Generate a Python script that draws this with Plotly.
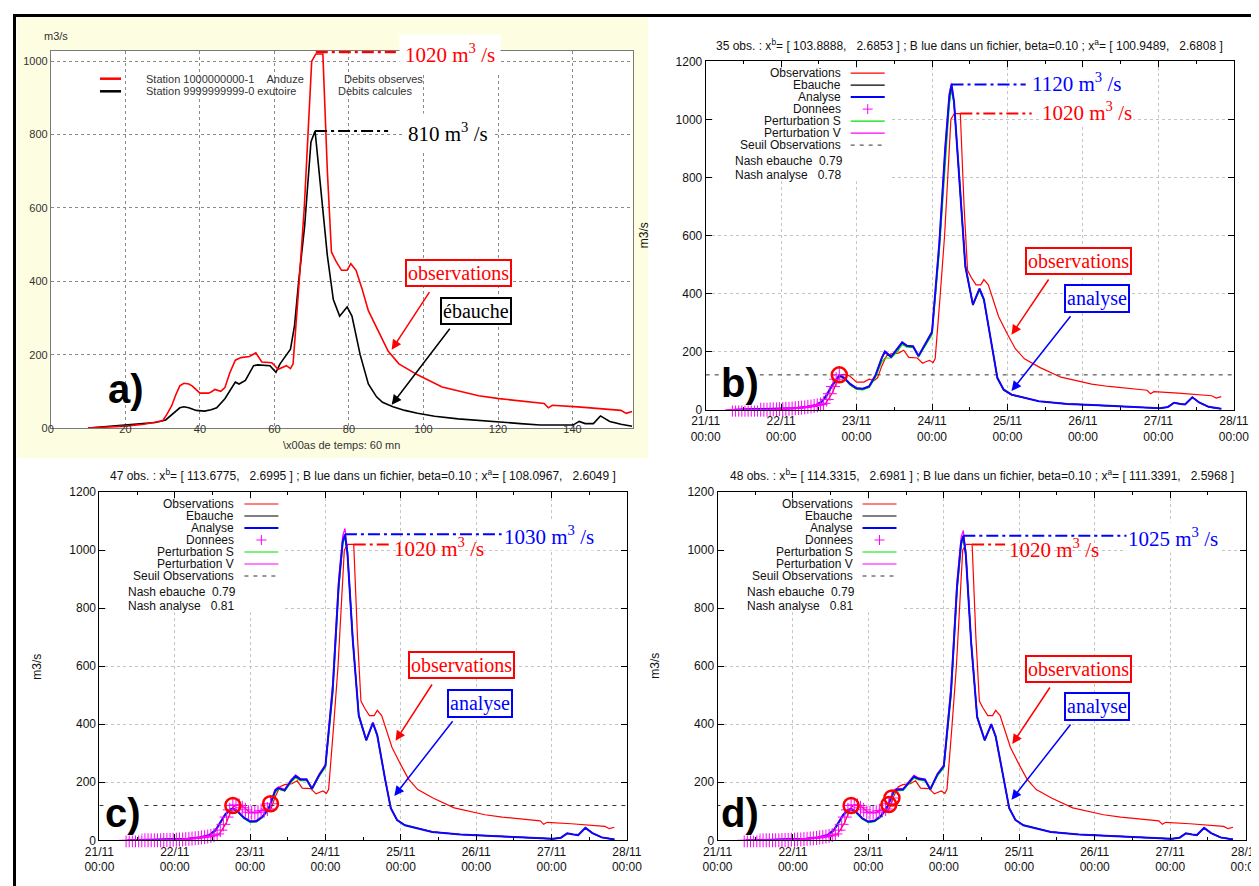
import pandas as pd
import plotly.graph_objects as go

W, H = 1259, 886

# ---------------- panel a data (time step index, 60 mn) ----------------
obs_steps = [10, 16, 20, 25, 28, 30, 31, 32.4, 33.5, 34.6, 35.7, 37, 37.9, 39, 40, 42.3, 43, 44, 45.6, 46.7,
             48, 49.5, 51, 53.3, 55, 56.6, 59.3, 61, 62, 63.2, 64.3, 65, 66.5, 68, 69, 70, 71.1, 73, 74.2, 75.3,
             76.5, 78, 79.5, 80.5, 81.9, 83.5, 85.2, 88, 90.5, 93.4, 98.4, 105, 110, 114.8, 120.3, 126, 132.4,
             133.5, 134.6, 142.3, 151, 153, 154.4, 156]
obs_values = [0, 2, 5, 10, 15, 20, 35, 60, 90, 115, 122, 120, 115, 105, 95, 95, 98, 105, 100, 110,
              150, 185, 192, 195, 205, 180, 178, 160, 165, 170, 162, 175, 380, 600, 800, 1000, 1020, 1020, 700, 480,
              455, 430, 430, 448, 430, 380, 320, 260, 210, 175, 145, 112, 100, 88, 80, 73, 67,
              55, 62, 57, 50, 48, 40, 45]

calc_steps = [10, 20, 28, 30.8, 33, 34.6, 35.7, 37, 39, 41.2, 43, 44.5, 46.7, 48, 49.5, 50.5, 52.2, 54.4, 55.5, 58.8,
              60.4, 61.5, 63.2, 64.3, 65.4, 66.5, 68.1, 69.8, 70.9, 72.5, 74.2, 75.8, 77.5, 79.5, 80.8, 83, 85.2,
              87.4, 89, 91.8, 95, 98.4, 103, 109.3, 115, 120.3, 126, 131.3, 140.1, 141.8, 143.4, 145.6, 147.5,
              150, 153, 156]
calc_values = [0, 8, 15, 22, 40, 55, 58, 55, 48, 46, 50, 55, 80, 100, 125, 120, 130, 170, 172, 170,
               152, 175, 200, 215, 280, 400, 550, 780, 810, 640, 470, 350, 305, 330, 305, 200, 120,
               85, 70, 58, 48, 40, 32, 25, 20, 15, 12, 8, 8, 18, 12, 12, 33,
               18, 10, 5]

# ---------------- panels b, c, d (hours after 21/11 00:00) ----------------
obs_start = "2011-11-21 08:00"   # date of time step 0 of panel a
axis_start = "2011-11-21 00:00"
axis_end = "2011-11-28 00:00"

model_hours = [9, 20, 28, 32, 35, 37, 38.5, 40, 41.5, 42.5, 44, 46, 48, 50, 52, 54, 56, 57, 59, 61,
               62.5, 64, 66, 67.7, 70, 72, 74.3, 76.2, 77.5, 78.2, 79, 80.7, 82.6, 85, 87.1, 88.5, 91, 92.8,
               94.8, 97.3, 106, 115, 125, 138, 144.5, 147, 149, 151, 152.5, 154.8, 157, 160, 164]

ebauche_b = [0, 2, 5, 9, 15, 28, 50, 80, 104, 116, 108, 86, 72, 71, 80, 116, 176, 198, 180, 208,
             230, 220, 216, 184, 228, 265, 560, 890, 1070, 1110, 1055, 795, 490, 360, 414, 378, 222, 108,
             68, 51, 29, 20, 15, 8, 5, 9, 24, 20, 18, 43, 25, 10, 3]
analyse_b = [0, 2, 5, 9, 15, 28, 50, 80, 105, 118, 110, 88, 74, 72, 80, 118, 178, 200, 182, 210,
             232, 220, 218, 185, 230, 268, 570, 900, 1080, 1120, 1060, 800, 494, 362, 417, 380, 224, 109,
             69, 52, 29, 20, 15, 8, 5, 9, 24, 20, 18, 43, 25, 10, 3]
pert_s_b = [0, 2, 5, 8, 14, 26, 46, 76, 100, 114, 108, 84, 70, 68, 76, 110, 165, 178, 178, 200,
            225, 215, 214, 182, 222, 258, 540, 860, 1050, 1100, 1060, 810, 500, 365, 410, 378, 226, 112,
            70, 53, 29, 20, 15, 8, 5, 9, 24, 20, 18, 43, 25, 10, 3]
pert_v_b = [0, 2, 6, 10, 17, 30, 54, 84, 108, 120, 112, 90, 75, 73, 82, 120, 180, 202, 184, 212,
            234, 222, 220, 186, 232, 270, 580, 910, 1090, 1125, 1062, 802, 495, 362, 418, 381, 225, 110,
            69, 52, 29, 20, 15, 8, 5, 9, 24, 20, 18, 43, 25, 10, 3]

ebauche_c = [0, 2, 5, 10, 17, 33, 58, 86, 103, 108, 99, 77, 64, 65, 81, 110, 170, 178, 171, 203,
             220, 209, 208, 177, 223, 256, 515, 875, 1035, 1050, 985, 688, 428, 344, 403, 360, 209, 110,
             70, 52, 29, 20, 15, 8, 5, 9, 24, 20, 18, 43, 25, 10, 3]
analyse_c = [0, 2, 5, 10, 18, 35, 60, 88, 105, 110, 100, 78, 65, 66, 82, 112, 172, 180, 172, 205,
             222, 210, 210, 178, 225, 258, 520, 880, 1030, 1055, 990, 690, 430, 345, 405, 362, 210, 111,
             70, 52, 29, 20, 15, 8, 5, 9, 24, 20, 18, 43, 25, 10, 3]
pert_s_c = [0, 2, 5, 9, 16, 32, 56, 84, 102, 106, 97, 75, 62, 63, 78, 106, 165, 176, 170, 200,
            215, 206, 206, 176, 220, 252, 500, 860, 1020, 1045, 995, 700, 435, 348, 402, 360, 212, 113,
            71, 53, 29, 20, 15, 8, 5, 9, 24, 20, 18, 43, 25, 10, 3]
pert_v_c = [0, 2, 6, 11, 19, 37, 62, 90, 107, 112, 102, 80, 67, 68, 84, 115, 176, 184, 176, 208,
            225, 213, 212, 180, 228, 262, 540, 900, 1050, 1075, 1000, 695, 432, 346, 407, 364, 212, 112,
            70, 52, 29, 20, 15, 8, 5, 9, 24, 20, 18, 43, 25, 10, 3]

ebauche_d = [0, 2, 5, 10, 17, 33, 58, 86, 102, 107, 97, 75, 63, 66, 83, 113, 166, 173, 174, 198,
             218, 211, 207, 175, 226, 254, 510, 870, 1030, 1048, 980, 678, 423, 344, 398, 356, 209, 110,
             70, 52, 29, 20, 15, 8, 5, 9, 24, 20, 18, 43, 25, 10, 3]
analyse_d = [0, 2, 5, 10, 18, 35, 60, 88, 104, 108, 98, 76, 64, 67, 84, 115, 168, 175, 175, 200,
             220, 212, 209, 176, 228, 256, 515, 875, 1025, 1050, 985, 680, 425, 345, 400, 358, 210, 111,
             70, 52, 29, 20, 15, 8, 5, 9, 24, 20, 18, 43, 25, 10, 3]
pert_s_d = [0, 2, 5, 9, 16, 32, 56, 84, 101, 104, 95, 73, 61, 64, 80, 110, 160, 170, 172, 196,
            214, 208, 205, 174, 222, 250, 495, 855, 1015, 1040, 990, 690, 430, 348, 398, 356, 212, 113,
            71, 53, 29, 20, 15, 8, 5, 9, 24, 20, 18, 43, 25, 10, 3]
pert_v_d = [0, 2, 6, 11, 19, 37, 62, 90, 106, 110, 100, 78, 66, 69, 86, 118, 172, 179, 178, 204,
            224, 215, 211, 178, 231, 260, 535, 895, 1045, 1068, 995, 685, 428, 346, 402, 360, 212, 112,
            70, 52, 29, 20, 15, 8, 5, 9, 24, 20, 18, 43, 25, 10, 3]

donnees_hours = [8.5, 9.5, 10.5, 11.5, 12.5, 13.5, 14.5, 15.5, 16.5, 17.5, 18.5, 19.5, 20.5, 21.5, 22.5,
                 23.5, 24.5, 25.5, 26.5, 27.5, 28.5, 29.5, 30.5, 31.5, 32.5, 33.5, 34.5, 35.5, 36.5, 37.5,
                 38.5, 39.5, 40.5, 41.5, 42.5, 43.5, 44.5, 45.5, 46.5, 47.5, 48.5, 49.5, 50.5, 51.5, 52.5,
                 53.5, 54.5, 55.5]
donnees_values = [0, 0, 0, 0, 0, 0, 0, 0, 0, 0, 0, 0, 1, 1, 1, 2, 2, 3, 3, 4,
                  5, 6, 7, 8, 10, 11, 13, 15, 18, 22, 35, 55, 80, 105, 120,
                  122, 120, 112, 105, 97, 95, 95, 97, 102, 103, 108, 126, 146]
n_obs = {"b": 35, "c": 47, "d": 48}

circle_hours_b = [42.5]
circle_values_b = [120]
circle_hours_c = [42.5, 54.5]
circle_values_c = [120, 126]
circle_hours_d = [42.5, 54.5, 55.5]
circle_values_d = [120, 123, 146]

seuil = 120

day_ticks = ["2011-11-21 00:00", "2011-11-22 00:00", "2011-11-23 00:00", "2011-11-24 00:00",
             "2011-11-25 00:00", "2011-11-26 00:00", "2011-11-27 00:00", "2011-11-28 00:00"]
day_labels = ["21/11<br>00:00", "22/11<br>00:00", "23/11<br>00:00", "24/11<br>00:00",
              "25/11<br>00:00", "26/11<br>00:00", "27/11<br>00:00", "28/11<br>00:00"]
half_day_ticks = ["2011-11-21 12:00", "2011-11-22 12:00", "2011-11-23 12:00", "2011-11-24 12:00",
                  "2011-11-25 12:00", "2011-11-26 12:00", "2011-11-27 12:00"]

key_labels = ["Observations", "Ebauche", "Analyse", "Donnees", "Perturbation S", "Perturbation V",
              "Seuil Observations"]

titles = {
    "b": ("35 obs. : x<sup>b</sup>= [ 103.8888,\u00a0\u00a0 2.6853 ] ; B lue dans un fichier, beta=0.10 ; "
          "x<sup>a</sup>= [ 100.9489,\u00a0\u00a0 2.6808 ]"),
    "c": ("47 obs. : x<sup>b</sup>= [ 113.6775,\u00a0\u00a0 2.6995 ] ; B lue dans un fichier, beta=0.10 ; "
          "x<sup>a</sup>= [ 108.0967,\u00a0\u00a0 2.6049 ]"),
    "d": ("48 obs. : x<sup>b</sup>= [ 114.3315,\u00a0\u00a0 2.6981 ] ; B lue dans un fichier, beta=0.10 ; "
          "x<sup>a</sup>= [ 111.3391,\u00a0\u00a0 2.5968 ]"),
}
nash = {"b": ("0.79", "0.78"), "c": ("0.79", "0.81"), "d": ("0.79", "0.81")}
peak_labels = {"b": "1120", "c": "1030", "d": "1025"}

# ---------------- helpers ----------------
SANS = "Liberation Sans, Arial, sans-serif"
SERIF = "Liberation Serif, Times New Roman, serif"
RED, BLUE, GREEN, MAG = "#ff0000", "#0000ff", "#00e000", "#ff00ff"


def px(x):
    return x / W


def py(y):
    return 1 - y / H


t0 = pd.Timestamp(axis_start)


def hts(h, base=t0):
    return base + pd.Timedelta(minutes=int(round(h * 60)))


def hdates(hours):
    return [hts(h) for h in hours]


def hstr(h):
    return hts(h).strftime("%Y-%m-%d %H:%M:%S")


obs_dates = [hts(s, pd.Timestamp(obs_start)) for s in obs_steps]

fig = go.Figure()
shapes = []
annotations = []


def text(t, x, y, size=12, color="#111", family=SANS, xanchor="center", yanchor="middle", **kw):
    d = dict(text=t, x=px(x), y=py(y), xref="paper", yref="paper", xanchor=xanchor, yanchor=yanchor,
             showarrow=False, font=dict(family=family, size=size, color=color))
    d.update(kw)
    annotations.append(d)


def arrow(hx, hy, tx, ty, color):
    annotations.append(dict(text="", x=px(hx), y=py(hy), xref="paper", yref="paper", showarrow=True,
                            ax=tx - hx, ay=ty - hy, axref="pixel", ayref="pixel", arrowhead=2,
                            arrowsize=1.3, arrowwidth=1.5, arrowcolor=color, standoff=0))


def pline(x0, y0, x1, y1, color, width=1, dash="solid"):
    shapes.append(dict(type="line", xref="paper", yref="paper", x0=px(x0), y0=py(y0), x1=px(x1), y1=py(y1),
                       line=dict(color=color, width=width, dash=dash)))


# ---------------- background & frame ----------------
shapes.append(dict(type="rect", xref="paper", yref="paper", x0=px(9), x1=px(640), y0=py(450), y1=py(9),
                   fillcolor="#fdfde2", line=dict(width=0), layer="below"))
shapes.append(dict(type="rect", xref="paper", yref="paper", x0=px(42.9), x1=px(624.5), y0=py(420), y1=py(43),
                   fillcolor="white", line=dict(width=0), layer="below"))

# ---------------- panel a ----------------
fig.add_trace(go.Scatter(x=calc_steps, y=calc_values, mode="lines", line=dict(color="black", width=1.6),
                         xaxis="x", yaxis="y", showlegend=False))
fig.add_trace(go.Scatter(x=obs_steps, y=obs_values, mode="lines", line=dict(color=RED, width=1.6),
                         xaxis="x", yaxis="y", showlegend=False))

DD = "12px,4px,3px,4px"
obs_max = max(obs_values)
obs_peak_step = obs_steps[obs_values.index(obs_max)]
calc_max = max(calc_values)
calc_peak_step = calc_steps[calc_values.index(calc_max)]
shapes.append(dict(type="line", xref="x", yref="y", x0=obs_peak_step, x1=92.6, y0=obs_max + 5, y1=obs_max + 5,
                   line=dict(color=RED, width=2.5, dash=DD)))
shapes.append(dict(type="line", xref="x", yref="y", x0=calc_peak_step, x1=90.5, y0=calc_max, y1=calc_max,
                   line=dict(color="black", width=2, dash=DD)))

text("m3/s", 34, 28, size=11, color="#333", xanchor="left")
text("\\x00as de temps: 60 mn", 333.7, 437, size=11, color="#333")
pline(92, 70.7, 113, 70.7, RED, 2.5)
pline(92, 83.3, 113, 83.3, "black", 2.5)
text("Station 1000000000-1\u00a0\u00a0\u00a0\u00a0Anduze", 135.5, 70.7, size=11, color="#333", xanchor="left")
text("Station 9999999999-0 exutoire", 135.5, 83.3, size=11, color="#333", xanchor="left")
text("Debits observes", 333.5, 70.7, size=11, color="#333", xanchor="left")
text("Debits calcules", 327.8, 83.3, size=11, color="#333", xanchor="left")
text("1020 m<sup>3</sup> /s", 442, 45, size=21, color=RED, family=SERIF, bgcolor="white", borderpad=5)
text("810 m<sup>3</sup> /s", 440, 124.5, size=21, color="black", family=SERIF, bgcolor="white", borderpad=5)
text("observations", 450.4, 265, size=20, color=RED, family=SERIF, bgcolor="white",
     bordercolor=RED, borderwidth=2, borderpad=1)
text("ébauche", 467.9, 302.8, size=20, color="black", family=SERIF, bgcolor="white",
     bordercolor="black", borderwidth=2, borderpad=1)
arrow(383.7, 341.7, 422.4, 282.7, RED)
arrow(383.7, 396.7, 442.9, 319.3, "black")
text("<b>a)</b>", 117.5, 381, size=40, color="black")

# ---------------- panels b, c, d ----------------
panels = [
    dict(key="b", n=2, left=697.7, right=1225.8, top=53.3, bottom=401.7,
         series=(ebauche_b, analyse_b, pert_s_b, pert_v_b), circles=(circle_hours_b, circle_values_b),
         blue_end=101.8, red_end=103.7, blue_lab=(1022, 75), red_lab=(1032, 103), red_bg=True,
         obs_box=(1070.5, 252.5), ana_box=(1089, 290),
         obs_arrow=(1003.5, 326.7, 1041.6, 270), ana_arrow=(1003.5, 383, 1063.7, 306.7),
         letter=(732, 375), title_y=36.7),
    dict(key="c", n=3, left=91.4, right=618.9, top=484.2, bottom=832.3,
         series=(ebauche_c, analyse_c, pert_s_c, pert_v_c), circles=(circle_hours_c, circle_values_c),
         blue_end=128.1, red_end=92.3, blue_lab=(494, 527), red_lab=(384, 539), red_bg=False,
         obs_box=(453.4, 657.4), ana_box=(471.5, 695),
         obs_arrow=(387.6, 732.7, 425, 675), ana_arrow=(386.3, 788, 445.8, 711.7),
         letter=(115, 805), title_y=467.3),
    dict(key="d", n=4, left=709.5, right=1237.6, top=484.2, bottom=832.3,
         series=(ebauche_d, analyse_d, pert_s_d, pert_v_d), circles=(circle_hours_d, circle_values_d),
         blue_end=131.9, red_end=91.5, blue_lab=(1118, 529), red_lab=(999, 540), red_bg=False,
         obs_box=(1070.9, 660.5), ana_box=(1089, 698),
         obs_arrow=(1004.3, 736, 1042.9, 678), ana_arrow=(1003.5, 791.7, 1063.7, 715),
         letter=(732, 805), title_y=467.3),
]

mdates = hdates(model_hours)
obs_last_peak = max(i for i, v in enumerate(obs_values) if v == obs_max)

layout_axes = {}
for p in panels:
    n = p["n"]
    xa, ya = f"x{n}", f"y{n}"
    ebau, ana, ps, pv = p["series"]
    fig.add_trace(go.Scatter(x=obs_dates, y=obs_values, mode="lines", line=dict(color=RED, width=1.2),
                             xaxis=xa, yaxis=ya, showlegend=False))
    fig.add_trace(go.Scatter(x=mdates, y=ebau, mode="lines", line=dict(color="black", width=1.2),
                             xaxis=xa, yaxis=ya, showlegend=False))
    fig.add_trace(go.Scatter(x=mdates, y=ps, mode="lines", line=dict(color=GREEN, width=1.2),
                             xaxis=xa, yaxis=ya, showlegend=False))
    fig.add_trace(go.Scatter(x=mdates, y=pv, mode="lines", line=dict(color=MAG, width=1.2),
                             xaxis=xa, yaxis=ya, showlegend=False))
    fig.add_trace(go.Scatter(x=mdates, y=ana, mode="lines", line=dict(color=BLUE, width=2),
                             opacity=0.9, xaxis=xa, yaxis=ya, showlegend=False))
    fig.add_trace(go.Scatter(x=[axis_start, axis_end], y=[seuil, seuil], mode="lines",
                             line=dict(color="#333", width=1, dash="4px,5px"),
                             xaxis=xa, yaxis=ya, showlegend=False))
    nd = n_obs[p["key"]]
    fig.add_trace(go.Scatter(x=hdates(donnees_hours[:nd]), y=donnees_values[:nd], mode="markers",
                             marker=dict(symbol="cross-thin-open", size=10, color=MAG,
                                         line=dict(color=MAG, width=1)),
                             cliponaxis=False, xaxis=xa, yaxis=ya, showlegend=False))
    ch, cv = p["circles"]
    fig.add_trace(go.Scatter(x=hdates(ch), y=cv, mode="markers",
                             marker=dict(symbol="circle-open", size=15, color=RED, line=dict(color=RED, width=2.5)),
                             cliponaxis=False, xaxis=xa, yaxis=ya, showlegend=False))

    # axes
    layout_axes[f"xaxis{n}"] = dict(
        domain=[px(p["left"]), px(p["right"])], anchor=ya, type="date", range=[axis_start, axis_end],
        tickmode="array", tickvals=day_ticks, ticktext=day_labels, ticks="inside", ticklen=6, tickwidth=1,
        tickcolor="black", showline=True, linecolor="black", linewidth=1, mirror="allticks",
        showgrid=True, gridcolor="#c4c4c4", griddash="dot", gridwidth=1, zeroline=False,
        tickfont=dict(family=SANS, size=12, color="#111"),
        minor=dict(tickmode="array", tickvals=half_day_ticks, ticks="inside", ticklen=3,
                   tickcolor="black", showgrid=False))
    layout_axes[f"yaxis{n}"] = dict(
        domain=[py(p["bottom"]), py(p["top"])], anchor=xa, range=[0, 1200], tickmode="linear", tick0=0,
        dtick=200, ticks="inside", ticklen=6, tickwidth=1, tickcolor="black", showline=True,
        linecolor="black", linewidth=1, mirror="allticks", showgrid=True, gridcolor="#c4c4c4",
        griddash="dot", gridwidth=1, zeroline=False, tickfont=dict(family=SANS, size=12, color="#111"))

    left, top = p["left"], p["top"]
    # opaque key area (hides the grid like gnuplot's key box)
    shapes.append(dict(type="rect", xref="paper", yref="paper", x0=px(left + 7), x1=px(left + 185),
                       y0=py(top + 120), y1=py(top + 7), fillcolor="white", line=dict(width=0), layer="above"))
    styles = [(RED, 1.2, "solid"), ("black", 1.2, "solid"), (BLUE, 2, "solid"), None,
              (GREEN, 1.2, "solid"), (MAG, 1.2, "solid"), ("#333", 1, "4px,5px")]
    for k, lab in enumerate(key_labels):
        yy = top + 11.8 + 12 * k
        text(lab, left + 137, yy, size=12, xanchor="right")
        x0, x1 = left + 145, left + 179
        if styles[k] is None:
            cx = (x0 + x1) / 2
            pline(cx - 5, yy, cx + 5, yy, MAG, 1)
            pline(cx, yy - 5, cx, yy + 5, MAG, 1)
        else:
            c, wdt, ds = styles[k]
            pline(x0, yy, x1, yy, c, wdt, ds)
    ne, na = nash[p["key"]]
    text(f"Nash ebauche\u00a0\u00a0{ne}", left + 27, top + 99.7, size=12, xanchor="left")
    text(f"Nash analyse\u00a0\u00a0\u00a0{na}", left + 27, top + 113.4, size=12, xanchor="left")

    # title and y label
    text(titles[p["key"]], (left + p["right"]) / 2, p["title_y"], size=12)
    text("m3/s", left - 62, (top + p["bottom"]) / 2, size=12, textangle=-90)

    # peak markers
    amax = max(ana)
    apeak = model_hours[ana.index(amax)]
    shapes.append(dict(type="line", xref=xa, yref=ya, x0=hstr(apeak), x1=hstr(p["blue_end"]), y0=amax, y1=amax,
                       line=dict(color=BLUE, width=2, dash=DD)))
    red_x0 = obs_dates[obs_last_peak].strftime("%Y-%m-%d %H:%M:%S")
    shapes.append(dict(type="line", xref=xa, yref=ya, x0=red_x0, x1=hstr(p["red_end"]), y0=obs_max,
                       y1=obs_max, line=dict(color=RED, width=2, dash=DD)))
    bl = p["blue_lab"]
    text(f"{peak_labels[p['key']]} m<sup>3</sup> /s", bl[0], bl[1], size=21, color=BLUE, family=SERIF,
         xanchor="left", bgcolor="white")
    rl = p["red_lab"]
    extra = dict(bgcolor="white") if p["red_bg"] else {}
    text("1020 m<sup>3</sup> /s", rl[0], rl[1], size=21, color=RED, family=SERIF, xanchor="left", **extra)

    ob = p["obs_box"]
    text("observations", ob[0], ob[1], size=20, color=RED, family=SERIF, bgcolor="white",
         bordercolor=RED, borderwidth=2, borderpad=1)
    ab = p["ana_box"]
    text("analyse", ab[0], ab[1], size=20, color=BLUE, family=SERIF, bgcolor="white",
         bordercolor=BLUE, borderwidth=2, borderpad=1)
    oa = p["obs_arrow"]
    arrow(oa[0], oa[1], oa[2], oa[3], RED)
    aa = p["ana_arrow"]
    arrow(aa[0], aa[1], aa[2], aa[3], BLUE)
    lt = p["letter"]
    text(f"<b>{p['key']})</b>", lt[0], lt[1], size=40, color="black", bgcolor="white", borderpad=0)

# outer frame
shapes.append(dict(type="rect", xref="paper", yref="paper", x0=px(6.5), x1=px(1254), y0=py(884), y1=py(7.5),
                   line=dict(color="black", width=3), layer="above"))

fig.update_layout(
    width=W, height=H, margin=dict(l=0, r=0, t=0, b=0), template="none",
    paper_bgcolor="white", plot_bgcolor="white", showlegend=False,
    xaxis=dict(domain=[px(42.9), px(624.5)], anchor="y", range=[0, 156.1], tickmode="linear", tick0=0, dtick=20,
               showgrid=True, gridcolor="#8a8a8a", griddash="dot", gridwidth=1, showline=True, mirror=True,
               linecolor="#7a7a7a", linewidth=1, ticks="", zeroline=False, ticklabelstandoff=-9,
               tickfont=dict(family=SANS, size=11, color="#333")),
    yaxis=dict(domain=[py(420), py(43)], anchor="x", range=[0, 1028], tickmode="linear", tick0=0, dtick=200,
               showgrid=True, gridcolor="#8a8a8a", griddash="dot", gridwidth=1, showline=True, mirror=True,
               linecolor="#7a7a7a", linewidth=1, ticks="", zeroline=False,
               tickfont=dict(family=SANS, size=11, color="#333")),
    shapes=shapes, annotations=annotations,
    **layout_axes,
)

fig.write_html("out.html")
